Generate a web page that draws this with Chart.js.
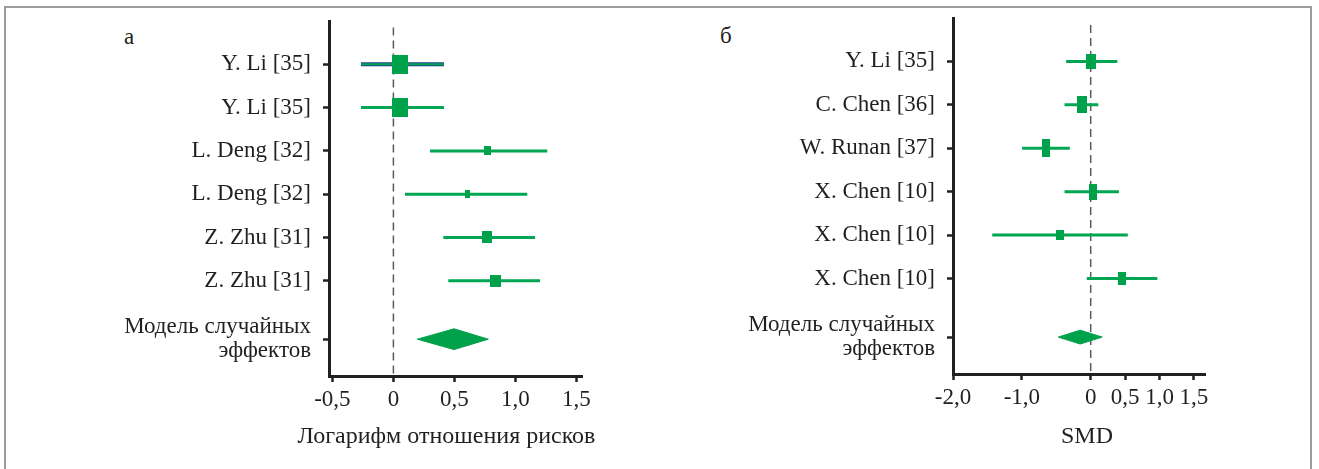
<!DOCTYPE html>
<html><head><meta charset="utf-8">
<script src="https://cdn.jsdelivr.net/npm/chart.js@4.4.1/dist/chart.umd.min.js"></script>
<style>
html,body{margin:0;padding:0;background:#fff;overflow:hidden;width:1319px;height:469px;}
#frame{position:absolute;left:4px;top:6px;width:1308px;height:480px;border:2px solid #9d9d9d;box-sizing:border-box;}
canvas{position:absolute;top:0;}
.lab{position:absolute;font-family:'Liberation Serif',serif;font-size:23px;color:#231f20;line-height:1;}
</style></head><body>
<div id="frame"></div>
<div class="lab" style="left:124px;top:25px">а</div>
<div class="lab" style="left:720px;top:24px">б</div>
<canvas id="cA" width="650" height="469" style="left:0"></canvas>
<canvas id="cB" width="669" height="469" style="left:650px"></canvas>
<script>
// ---- data: panel а (log risk ratio) ----
const studiesA = ['Y. Li [35]','Y. Li [35]','L. Deng [32]','L. Deng [32]','Z. Zhu [31]','Z. Zhu [31]'];
const estA  = [0.054, 0.054, 0.77, 0.606, 0.77, 0.833];
const lowA  = [-0.266, -0.266, 0.30, 0.095, 0.409, 0.45];
const highA = [0.415, 0.415, 1.261, 1.098, 1.161, 1.202];
const pooledA = [0.196, 0.497, 0.778];          // low, estimate, high
const xTicksA = [-0.5, 0, 0.5, 1.0, 1.5];
const xTickLabelsA = ['-0,5','0','0,5','1,0','1,5'];
const xTitleA = 'Логарифм отношения рисков';

// ---- data: panel б (SMD) ----
const studiesB = ['Y. Li [35]','C. Chen [36]','W. Runan [37]','X. Chen [10]','X. Chen [10]','X. Chen [10]'];
const estB  = [0.0, -0.13, -0.647, 0.03, -0.447, 0.453];
const lowB  = [-0.357, -0.38, -0.996, -0.38, -1.43, -0.057];
const highB = [0.386, 0.11, -0.304, 0.41, 0.539, 0.967];
const pooledB = [-0.471, -0.153, 0.167];
const xTicksB = [-2, -1, 0, 0.5, 1.0, 1.5];
const xTickLabelsB = ['-2,0','-1,0','0','0,5','1,0','1,5'];
const xTitleB = 'SMD';

const pooledLabel = ['Модель случайных','эффектов'];

// ---- styles ----
const GREEN = '#00a651';
const GREEN_SQ = '#00a14b';
const NAVY = '#233f86';
const TXT = '#231f20';
const FONT = "'Liberation Serif', 'Times New Roman', serif";
const POOLED_ROW = 7.35;
const Y_MAX = 8.2;

function sq(w, h) {
  const c = document.createElement('canvas');
  c.width = w; c.height = h;
  const g = c.getContext('2d');
  g.fillStyle = GREEN_SQ; g.fillRect(0, 0, w, h);
  return c;
}

// x-axis title drawn without Chart.js's maxWidth squeezing (the reference title is wider than the plot)
const axisTitlePlugin = {
  id: 'axisTitle',
  afterDraw(chart, args, opts) {
    const s = chart.scales.x, ctx = chart.ctx;
    ctx.save();
    ctx.font = '24px ' + FONT;
    ctx.fillStyle = TXT;
    ctx.textAlign = 'center';
    ctx.textBaseline = 'middle';
    ctx.fillText(opts.text, (s.left + s.right) / 2 + opts.dx, s.bottom - opts.dy);
    ctx.restore();
  }
};

function makePanel(id, o) {
  const rows = o.studies.map((_, i) => i + 1);
  const tickRows = rows.concat([POOLED_ROW]);
  const tickLabels = o.studies.concat([pooledLabel]);
  const ds = [];
  ds.push({
    data: o.est.map((v, i) => ({x: v, y: rows[i]})),
    pointStyle: o.mw.map((w, i) => sq(w, o.mh[i])),
    pointRadius: 5, showLine: false, order: 0
  });
  o.low.forEach((lo, i) => {
    const outl = o.outlineRows.includes(i);
    ds.push({data: [{x: lo, y: rows[i]}, {x: o.high[i], y: rows[i]}],
      borderColor: GREEN, borderWidth: outl ? 2 : 3, pointRadius: 0, showLine: true, order: 2});
    if (outl) {
      ds.push({data: [{x: lo, y: rows[i]}, {x: o.high[i], y: rows[i]}],
        borderColor: NAVY, borderWidth: 4, pointRadius: 0, showLine: true, order: 3});
    }
  });
  const p = o.pooled;
  ds.push({data: [{x: p[0], y: POOLED_ROW}, {x: p[1], y: POOLED_ROW - o.dh}, {x: p[2], y: POOLED_ROW}],
    borderColor: GREEN_SQ, backgroundColor: GREEN_SQ, borderWidth: 1, pointRadius: 0,
    showLine: true, fill: '+1', tension: 0, order: 1});
  ds.push({data: [{x: p[0], y: POOLED_ROW}, {x: p[1], y: POOLED_ROW + o.dh}, {x: p[2], y: POOLED_ROW}],
    borderColor: GREEN_SQ, borderWidth: 1, pointRadius: 0, showLine: true, fill: false, tension: 0, order: 1});
  ds.push({data: [{x: 0, y: o.dashTop}, {x: 0, y: Y_MAX}],
    borderColor: '#5a5a5a', borderWidth: 1.5, borderDash: [8, 5], pointRadius: 0, showLine: true, order: 4});

  const axisGrid = {display: true, drawOnChartArea: false, drawTicks: true, tickLength: 6, tickWidth: 2.5, tickColor: TXT};
  const axisBorder = {display: true, color: TXT, width: 3};

  new Chart(document.getElementById(id), {
    type: 'scatter',
    data: {datasets: ds},
    plugins: [axisTitlePlugin],
    options: {
      responsive: false, animation: false, devicePixelRatio: 1,
      layout: {padding: o.pad},
      plugins: {legend: {display: false}, tooltip: {enabled: false},
                axisTitle: {text: o.xtitle, dx: o.titleDx, dy: 32}},
      scales: {
        x: {
          type: 'linear', min: o.xmin, max: o.xmax,
          afterBuildTicks: s => { s.ticks = o.xticks.map(v => ({value: v})); },
          afterFit: s => { s.height = o.xh; s.paddingLeft = 0; s.paddingRight = 0; },
          ticks: {callback: (v, i) => o.xlabels[i], font: {family: FONT, size: 23}, color: TXT,
                  padding: 4, maxRotation: 0, autoSkip: false},
          grid: axisGrid, border: axisBorder,
          title: {display: false, text: o.xtitle}
        },
        y: {
          type: 'linear', reverse: true, min: 0, max: Y_MAX,
          afterBuildTicks: s => { s.ticks = tickRows.map(v => ({value: v})); },
          afterFit: s => { s.width = o.yw; s.paddingTop = 0; s.paddingBottom = 0; },
          ticks: {callback: (v, i) => tickLabels[i], font: {family: FONT, size: 23, lineHeight: 1.05},
                  color: TXT, padding: 12, autoSkip: false},
          grid: axisGrid, border: axisBorder
        }
      }
    }
  });
}

makePanel('cA', {
  studies: studiesA, est: estA, low: lowA, high: highA, pooled: pooledA,
  xticks: xTicksA, xlabels: xTickLabelsA, xtitle: xTitleA, titleDx: -9,
  xmin: -0.528, xmax: 1.546, yw: 329, xh: 93, pad: {left: 0, right: 68, top: 21, bottom: 0},
  mw: [16, 16, 7, 5, 10, 11], mh: [19, 19, 9, 8, 12, 12], outlineRows: [0], dh: 0.24, dashTop: 0.15
});
makePanel('cB', {
  studies: studiesB, est: estB, low: lowB, high: highB, pooled: pooledB,
  xticks: xTicksB, xlabels: xTickLabelsB, xtitle: xTitleB, titleDx: 8,
  xmin: -2, xmax: 1.66, yw: 303, xh: 95, pad: {left: 0, right: 114, top: 18, bottom: 0},
  mw: [10, 10, 8, 8, 8, 8], mh: [15, 17, 18, 16, 10, 13], outlineRows: [], dh: 0.16, dashTop: 0.16
});
</script>
</body></html>
